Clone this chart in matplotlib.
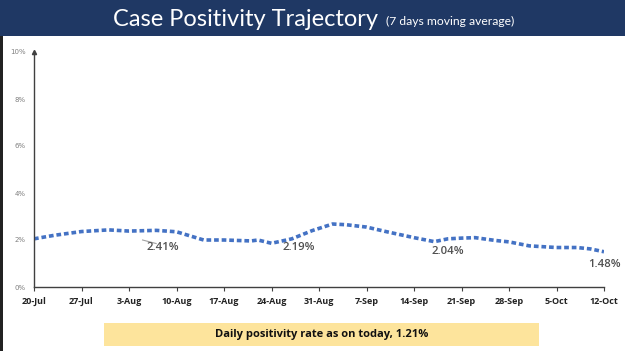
import matplotlib.pyplot as plt
from matplotlib.patches import Rectangle
import datetime as dt

# sampled points along the 7-day moving average (percent)
dates = ["2020-07-20", "2020-07-23", "2020-07-27", "2020-07-31", "2020-08-03",
         "2020-08-07", "2020-08-10", "2020-08-14", "2020-08-17", "2020-08-21",
         "2020-08-22", "2020-08-24", "2020-08-27", "2020-08-30", "2020-09-02",
         "2020-09-04", "2020-09-07", "2020-09-10", "2020-09-14", "2020-09-17",
         "2020-09-19", "2020-09-21", "2020-09-23", "2020-09-26", "2020-09-28",
         "2020-10-01", "2020-10-05", "2020-10-08", "2020-10-10", "2020-10-12"]
rate = [2.05, 2.2, 2.36, 2.43, 2.38, 2.41, 2.35, 2.0, 2.0, 1.96,
        2.0, 1.86, 2.05, 2.4, 2.68, 2.65, 2.55, 2.35, 2.1, 1.93,
        2.05, 2.08, 2.1, 1.98, 1.92, 1.75, 1.68, 1.68, 1.62, 1.5]

label_dates = ["2020-08-08", "2020-08-28", "2020-09-19", "2020-10-12"]
label_text = ["2.41%", "2.19%", "2.04%", "1.48%"]
label_y = [1.7, 1.7, 1.5, 0.95]

tick_dates = ["2020-07-20", "2020-07-27", "2020-08-03", "2020-08-10", "2020-08-17",
              "2020-08-24", "2020-08-31", "2020-09-07", "2020-09-14", "2020-09-21",
              "2020-09-28", "2020-10-05", "2020-10-12"]
tick_labels = ["20-Jul", "27-Jul", "3-Aug", "10-Aug", "17-Aug", "24-Aug", "31-Aug",
               "7-Sep", "14-Sep", "21-Sep", "28-Sep", "5-Oct", "12-Oct"]

to_date = lambda s: dt.datetime.strptime(s, "%Y-%m-%d")
x = [to_date(d) for d in dates]

fig = plt.figure(figsize=(6.25, 3.51), dpi=100)
fig.patch.set_facecolor("white")

# header band
fig.add_artist(Rectangle((0, 1 - 36 / 351), 1, 36 / 351, transform=fig.transFigure,
                         facecolor="#1f3864", edgecolor="none"))
fig.text(0.605, 1 - 19 / 351, "Case Positivity Trajectory", color="white", fontsize=17,
         family="Lato", ha="right", va="center")
fig.text(0.618, 1 - 21 / 351, "(7 days moving average)", color="white", fontsize=8.7,
         family="Lato", ha="left", va="center")
# left slide edge
fig.add_artist(Rectangle((0, 0), 3 / 625, 1 - 36 / 351, transform=fig.transFigure,
                         facecolor="#222222", edgecolor="none"))

ax = fig.add_axes([34 / 625, 1 - 287 / 351, 570 / 625, 235 / 351])
ax.plot(x, rate, color="#4472c4", lw=2.6, linestyle=(0, (1.3, 0.8)))

for d, t, yy in zip(label_dates, label_text, label_y):
    ax.text(to_date(d), yy, t, ha="center", va="center",
            fontsize=8.2, fontweight="semibold", color="#505050", family="Open Sans")
# short leader line next to the first label
ax.plot([to_date("2020-08-05"), to_date("2020-08-07")], [2.0, 1.85], color="#a0a0a0", lw=0.8)

ax.set_ylim(0, 10)
ax.set_yticks([0, 2, 4, 6, 8, 10])
ax.set_yticklabels(["0%", "2%", "4%", "6%", "8%", "10%"], fontsize=5, color="#808080")
ax.set_xlim(to_date(tick_dates[0]), to_date(tick_dates[-1]))
ax.set_xticks([to_date(d) for d in tick_dates])
ax.set_xticklabels(tick_labels, fontsize=6.5, fontweight="bold", color="#222222",
                   family="Open Sans")
ax.tick_params(axis="x", length=3, direction="out", pad=4, color="#404040")
ax.tick_params(axis="y", length=0, pad=6)
for s in ["top", "right"]:
    ax.spines[s].set_visible(False)
for s in ["left", "bottom"]:
    ax.spines[s].set_color("#404040")
    ax.spines[s].set_linewidth(1)
ax.plot(0, 1, marker="^", color="#404040", markersize=3, transform=ax.transAxes, clip_on=False)

# daily rate banner
fig.add_artist(Rectangle((104 / 625, 1 - 346 / 351), 435 / 625, 23 / 351,
                         transform=fig.transFigure, facecolor="#fde49c", edgecolor="none"))
fig.text(322 / 625, 1 - 334.5 / 351, "Daily positivity rate as on today, 1.21%",
         fontsize=8, fontweight="bold", color="#111111", family="Open Sans",
         ha="center", va="center")

fig.savefig("out.png", dpi=100)
